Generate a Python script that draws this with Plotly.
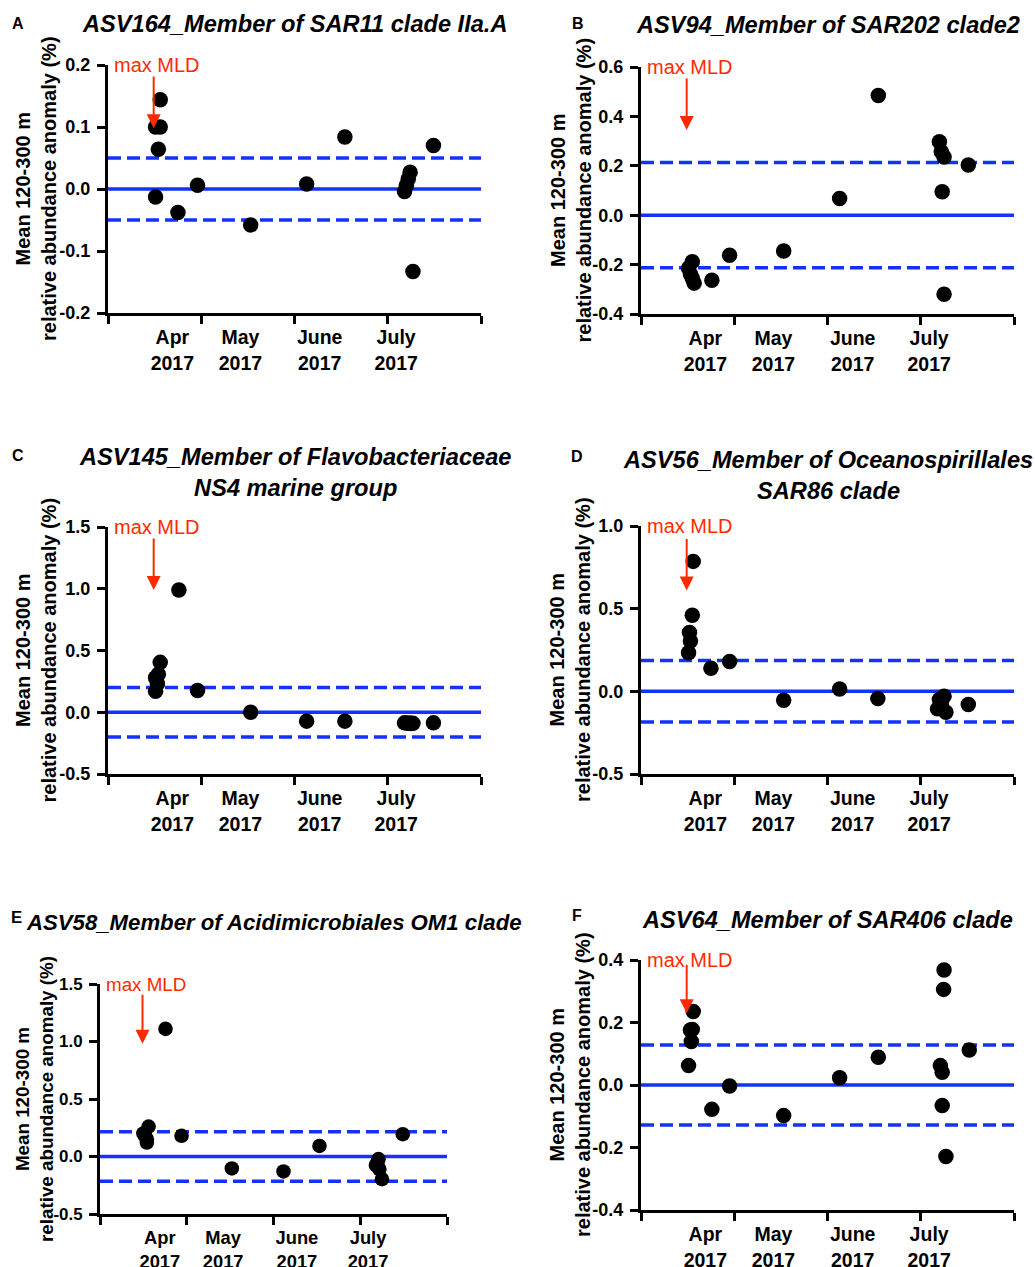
import plotly.graph_objects as go

W, H = 1035, 1267
FONT = "Liberation Sans, Arial, Helvetica, sans-serif"
BLUE = "#1432FF"
RED = "#FF2A00"

# ---------------- data ----------------
month_labels = ["Apr<br>2017", "May<br>2017", "June<br>2017", "July<br>2017"]
month_label_pos = [0.69, 1.42, 2.27, 3.09]
month_bounds = [0, 1, 2, 3, 4]

a_title = "ASV164_Member of SAR11 clade IIa.A"
a_x = [0.56, 0.51, 0.56, 0.54, 0.51, 0.75, 0.96, 1.53, 2.13, 2.54, 3.24, 3.22, 3.20, 3.18, 3.27, 3.49]
a_y = [0.144, 0.100, 0.100, 0.064, -0.013, -0.038, 0.006, -0.058, 0.008, 0.084, 0.027, 0.016, 0.006, -0.004, -0.133, 0.070]
a_thr = 0.05
a_ticks = [-0.2, -0.1, 0.0, 0.1, 0.2]
a_ticktext = ["-0.2", "-0.1", "0.0", "0.1", "0.2"]
a_range = [-0.2, 0.2]
a_arrow = [0.184, 0.098]

b_title = "ASV94_Member of SAR202 clade2"
b_x = [0.55, 0.51, 0.53, 0.55, 0.57, 0.76, 0.95, 1.53, 2.13, 2.545, 3.20, 3.22, 3.25, 3.23, 3.25, 3.51]
b_y = [-0.188, -0.215, -0.238, -0.255, -0.275, -0.263, -0.162, -0.145, 0.068, 0.485, 0.297, 0.257, 0.236, 0.095, -0.320, 0.203]
b_thr = 0.213
b_ticks = [-0.4, -0.2, 0.0, 0.2, 0.4, 0.6]
b_ticktext = ["-0.4", "-0.2", "0.0", "0.2", "0.4", "0.6"]
b_range = [-0.4, 0.6]
b_arrow = [0.56, 0.345]

c_title = "ASV145_Member of Flavobacteriaceae<br>NS4 marine group"
c_x = [0.56, 0.54, 0.51, 0.53, 0.51, 0.76, 0.96, 1.53, 2.13, 2.54, 3.18, 3.21, 3.23, 3.25, 3.27, 3.49]
c_y = [0.404, 0.307, 0.280, 0.230, 0.170, 0.990, 0.176, 0.000, -0.072, -0.072, -0.086, -0.090, -0.088, -0.092, -0.090, -0.086]
c_thr = 0.2
c_ticks = [-0.5, 0.0, 0.5, 1.0, 1.5]
c_ticktext = ["-0.5", "0.0", "0.5", "1.0", "1.5"]
c_range = [-0.5, 1.5]
c_arrow = [1.42, 0.99]

d_title = "ASV56_Member of Oceanospirillales<br>SAR86 clade"
d_x = [0.56, 0.55, 0.52, 0.53, 0.51, 0.75, 0.95, 1.53, 2.13, 2.54, 3.25, 3.20, 3.22, 3.18, 3.27, 3.51]
d_y = [0.786, 0.460, 0.356, 0.304, 0.234, 0.140, 0.180, -0.054, 0.014, -0.044, -0.030, -0.050, -0.080, -0.106, -0.126, -0.080]
d_thr = 0.186
d_ticks = [-0.5, 0.0, 0.5, 1.0]
d_ticktext = ["-0.5", "0.0", "0.5", "1.0"]
d_range = [-0.5, 1.0]
d_arrow = [0.93, 0.61]

e_title = "ASV58_Member of Acidimicrobiales OM1 clade"
e_x = [0.56, 0.50, 0.52, 0.54, 0.54, 0.755, 0.94, 1.52, 2.115, 2.53, 3.21, 3.20, 3.18, 3.22, 3.25, 3.49]
e_y = [0.260, 0.200, 0.180, 0.150, 0.121, 1.110, 0.180, -0.104, -0.130, 0.092, -0.023, -0.046, -0.075, -0.110, -0.197, 0.194]
e_thr = 0.215
e_ticks = [-0.5, 0.0, 0.5, 1.0, 1.5]
e_ticktext = ["-0.5", "0.0", "0.5", "1.0", "1.5"]
e_range = [-0.5, 1.5]
e_arrow = [1.42, 0.98]

f_title = "ASV64_Member of SAR406 clade"
f_x = [0.56, 0.53, 0.55, 0.54, 0.51, 0.76, 0.95, 1.53, 2.13, 2.545, 3.25, 3.245, 3.21, 3.23, 3.23, 3.27, 3.52]
f_y = [0.235, 0.176, 0.178, 0.139, 0.062, -0.078, -0.003, -0.098, 0.023, 0.089, 0.368, 0.306, 0.062, 0.041, -0.066, -0.229, 0.112]
f_thr = 0.128
f_ticks = [-0.4, -0.2, 0.0, 0.2, 0.4]
f_ticktext = ["-0.4", "-0.2", "0.0", "0.2", "0.4"]
f_range = [-0.4, 0.4]
f_arrow = [0.39, 0.23]

arrow_x = 0.49
ytitle = "Mean 120-300 m<br>relative abundance anomaly (%)"

# --------------- layout (pixel boxes) ---------------
panels = [
    dict(letter="A", title=a_title, x=a_x, y=a_y, thr=a_thr, ticks=a_ticks, ticktext=a_ticktext, rng=a_range, arrow=a_arrow,
         box=(108, 481, 65, 313), letter_pos=(18, 23), title_y=24, ytitle_x=36, s=1.0),
    dict(letter="B", title=b_title, x=b_x, y=b_y, thr=b_thr, ticks=b_ticks, ticktext=b_ticktext, rng=b_range, arrow=b_arrow,
         box=(641, 1014, 67, 314), letter_pos=(578, 23), title_y=25, ytitle_x=570, s=1.0),
    dict(letter="C", title=c_title, x=c_x, y=c_y, thr=c_thr, ticks=c_ticks, ticktext=c_ticktext, rng=c_range, arrow=c_arrow,
         box=(108, 481, 527, 774), letter_pos=(18, 455), title_y=472, ytitle_x=36, s=1.0),
    dict(letter="D", title=d_title, x=d_x, y=d_y, thr=d_thr, ticks=d_ticks, ticktext=d_ticktext, rng=d_range, arrow=d_arrow,
         box=(641, 1014, 526, 774), letter_pos=(577, 456), title_y=475, ytitle_x=570, s=1.0),
    dict(letter="E", title=e_title, x=e_x, y=e_y, thr=e_thr, ticks=e_ticks, ticktext=e_ticktext, rng=e_range, arrow=e_arrow,
         box=(100, 447, 984, 1214), letter_pos=(16, 917), title_y=922, ytitle_x=34, s=0.94),
    dict(letter="F", title=f_title, x=f_x, y=f_y, thr=f_thr, ticks=f_ticks, ticktext=f_ticktext, rng=f_range, arrow=f_arrow,
         box=(641, 1014, 960, 1210), letter_pos=(577, 915), title_y=920, ytitle_x=570, s=1.0),
]

fig = go.Figure()
layout = dict(width=W, height=H, margin=dict(l=0, r=0, t=0, b=0, pad=0, autoexpand=False),
              template="none",
              paper_bgcolor="white", plot_bgcolor="white", showlegend=False)
annotations = []

for i, p in enumerate(panels):
    n = "" if i == 0 else str(i + 1)
    xa, ya = "x" + n, "y" + n
    x0, x1, y0, y1 = p["box"]
    s = p["s"]
    xdom = [x0 / W, x1 / W]
    ydom = [1 - y1 / H, 1 - y0 / H]
    layout["xaxis" + n] = dict(
        domain=xdom, anchor=ya, range=[month_bounds[0], month_bounds[-1]], automargin=False,
        tickmode="array", tickvals=month_label_pos,
        ticktext=["<b>%s</b>" % t for t in month_labels], ticks="",
        ticklabelstandoff=5,
        tickfont=dict(family=FONT, size=19.5 * s, color="black", weight="bold"),
        showline=True, linewidth=3, linecolor="black", showgrid=False, zeroline=False,
        minor=dict(tickmode="array", tickvals=month_bounds, ticks="outside", ticklen=8,
                   tickwidth=2.5, tickcolor="black", showgrid=False),
        fixedrange=True,
    )
    layout["yaxis" + n] = dict(
        domain=ydom, anchor=xa, range=p["rng"], automargin=False,
        tickmode="array", tickvals=p["ticks"], ticktext=["<b>%s</b>" % t for t in p["ticktext"]],
        ticks="outside", ticklen=8, tickwidth=2.5, tickcolor="black",
        ticklabelstandoff=3,
        tickfont=dict(family=FONT, size=18 * s, color="black", weight="bold"),
        showline=True, linewidth=3, linecolor="black", showgrid=False, zeroline=False,
        fixedrange=True,
    )
    # reference lines
    for val, dash in [(0.0, "solid"), (p["thr"], "13px,6px"), (-p["thr"], "13px,6px")]:
        fig.add_trace(go.Scatter(
            x=[month_bounds[0], month_bounds[-1]], y=[val, val], mode="lines",
            line=dict(color=BLUE, width=3.5, dash=dash), xaxis=xa, yaxis=ya,
            hoverinfo="skip", cliponaxis=False))
    # points
    fig.add_trace(go.Scatter(
        x=p["x"], y=p["y"], mode="markers", xaxis=xa, yaxis=ya,
        marker=dict(color="black", size=15.5 * s, line=dict(width=0)), cliponaxis=False))

    # panel letter
    annotations.append(dict(
        text="<b>%s</b>" % p["letter"], xref="paper", yref="paper",
        x=p["letter_pos"][0] / W, y=1 - p["letter_pos"][1] / H, xanchor="center", yanchor="middle",
        showarrow=False, font=dict(family=FONT, size=16 * (1.05 if p["letter"] == "E" else 1), color="black")))
    # title
    annotations.append(dict(
        text="<b><i>%s</i></b>" % p["title"], xref="paper", yref="paper",
        x=(x0 + x1) / 2 / W, y=1 - p["title_y"] / H, xanchor="center", yanchor="middle",
        showarrow=False, align="center", font=dict(family=FONT, size=23.6 * s, color="black")))
    # y title
    annotations.append(dict(
        text="<b>%s</b>" % ytitle, xref="paper", yref="paper", textangle=-90,
        x=p["ytitle_x"] / W, y=1 - (y0 + y1) / 2 / H, xanchor="center", yanchor="middle",
        showarrow=False, align="center", font=dict(family=FONT, size=20 * s, color="black")))
    # max MLD label
    annotations.append(dict(
        text="max MLD", xref=xa, yref=ya, x=month_bounds[0], y=p["rng"][1],
        xanchor="left", yanchor="middle", xshift=4, showarrow=False,
        font=dict(family=FONT, size=20 * s, color=RED)))
    # arrow
    annotations.append(dict(
        text="", xref=xa, yref=ya, x=arrow_x, y=p["arrow"][1],
        axref=xa, ayref=ya, ax=arrow_x, ay=p["arrow"][0],
        showarrow=True, arrowhead=2, arrowsize=1.4, arrowwidth=2, arrowcolor=RED))

layout["annotations"] = annotations
fig.update_layout(**layout)
fig.write_html("out.html", config={"displayModeBar": False},
               post_script="document.body.style.margin='0';")
